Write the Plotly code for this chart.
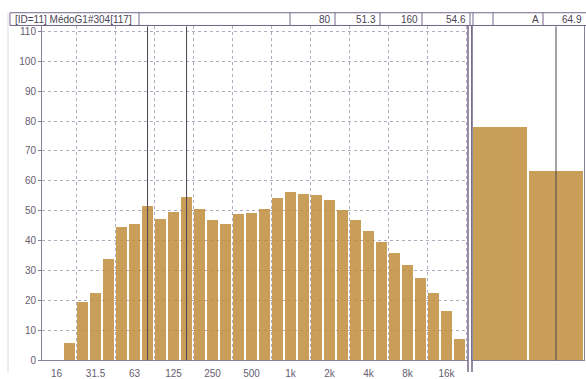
import plotly.graph_objects as go

# ---- data ----
axis_bands = ["16", "20", "25", "31.5", "40", "50", "63", "80", "100", "125", "160",
              "200", "250", "315", "400", "500", "630", "800", "1k", "1.25k", "1.6k",
              "2k", "2.5k", "3.15k", "4k", "5k", "6.3k", "8k", "10k", "12.5k", "16k", "20k"]
categories = axis_bands[1:]
levels = [5.5, 19.3, 22.2, 33.8, 44.4, 45.4, 51.3, 47.1, 49.4, 54.6, 50.4, 46.8, 45.4,
          48.6, 49.2, 50.5, 54.2, 56.2, 55.6, 55.1, 53.6, 50.1, 46.6, 43.0, 39.5, 35.6,
          31.8, 27.4, 22.3, 16.2, 7.1]
tick_labels = ["16", "31.5", "63", "125", "250", "500", "1k", "2k", "4k", "8k", "16k"]
y_ticks = [0, 10, 20, 30, 40, 50, 60, 70, 80, 90, 100, 110]

total_names = ["Lin", "A"]
total_levels = [77.8, 63.1]

title_text = "[ID=11] MédoG1#304[117]"
cursor_bands = ["80", "160"]
cursor_values = [51.3, 54.6]
total_cursor = ("A", 64.9)

W, H = 586, 379
BAR = "rgb(191,143,61)"
GRID = "#b3abbe"
FRAME = "#8a7f99"
TXT = "#665d70"
FONT = "Liberation Sans"

def px(x):
    return x / W

def py(y):
    return 1 - y / H

x_pos = [axis_bands.index(c) for c in categories]
tickvals = [axis_bands.index(t) for t in tick_labels]

fig = go.Figure()
fig.add_trace(go.Bar(x=x_pos, y=levels, width=0.8, marker=dict(color=BAR, line=dict(width=0)),
                     opacity=0.86, xaxis="x", yaxis="y", showlegend=False, hoverinfo="skip"))
fig.add_trace(go.Bar(x=list(range(len(total_names))), y=total_levels, width=0.96,
                     marker=dict(color=BAR, line=dict(width=0)), opacity=0.86,
                     xaxis="x2", yaxis="y2", showlegend=False, hoverinfo="skip"))

y_top = (367 - 26) / 3.055
ydom = [py(367), py(26)]

fig.update_layout(
    width=W, height=H, margin=dict(l=0, r=0, t=0, b=0),
    paper_bgcolor="white", plot_bgcolor="white",
    font=dict(family=FONT, size=10, color=TXT),
    bargap=0,
    xaxis=dict(domain=[px(42), px(468)], range=[-1.12, 31.65],
               tickmode="array", tickvals=tickvals, ticktext=tick_labels,
               showgrid=False, zeroline=False, ticklabelstandoff=4,
               showline=True, linecolor=FRAME, linewidth=1, mirror=True,
               ticks="", tickfont=dict(size=10, color=TXT),
               minor=dict(tick0=1.5, dtick=3, showgrid=True, gridcolor=GRID,
                          griddash="dot", gridwidth=1, ticks="")),
    yaxis=dict(domain=ydom, range=[0, y_top], tickmode="array", tickvals=y_ticks,
               showgrid=True, gridcolor=GRID, griddash="dot", gridwidth=1,
               zeroline=False, showline=True, linecolor=FRAME, linewidth=1,
               ticks="outside", ticklen=3, tickcolor=FRAME,
               tickfont=dict(size=10, color=TXT)),
    xaxis2=dict(domain=[px(472), px(584)], range=[-0.5, 1.5], anchor="y2",
                showticklabels=False, showgrid=False, zeroline=False,
                showline=True, linecolor=FRAME, linewidth=1, mirror=True, ticks=""),
    yaxis2=dict(domain=ydom, range=[0, y_top], anchor="x2", showticklabels=False,
                showgrid=False, zeroline=False, showline=True, linecolor=FRAME,
                linewidth=1, mirror=True, ticks=""),
)

shapes = []
for b in cursor_bands:
    shapes.append(dict(type="line", xref="x", yref="paper", x0=axis_bands.index(b),
                       x1=axis_bands.index(b), y0=ydom[0], y1=ydom[1],
                       line=dict(color="#4a4452", width=1), layer="above"))
shapes.append(dict(type="line", xref="x2", yref="paper", x0=total_names.index(total_cursor[0]),
                   x1=total_names.index(total_cursor[0]), y0=ydom[0], y1=ydom[1],
                   line=dict(color="#4a4452", width=1), layer="above"))
for xx in (468, 472):
    shapes.append(dict(type="line", xref="paper", yref="paper", x0=px(xx), x1=px(xx),
                       y0=py(379), y1=py(25), line=dict(color="#72678a", width=1.5),
                       layer="above"))
shapes.append(dict(type="line", xref="paper", yref="paper", x0=px(8), x1=px(8),
                   y0=0, y1=py(12), line=dict(color="#ddd6e6", width=1)))
hy0, hy1 = py(25), py(12)
shapes.append(dict(type="rect", xref="paper", yref="paper", x0=px(10), x1=px(590),
                   y0=hy0, y1=hy1, line=dict(color="#72678a", width=1)))
for xx in (139, 290, 335, 380, 422, 470, 473, 493, 543):
    shapes.append(dict(type="line", xref="paper", yref="paper", x0=px(xx), x1=px(xx),
                       y0=hy0, y1=hy1, line=dict(color="#72678a", width=1)))
fig.update_layout(shapes=shapes)

ann = [dict(text=title_text, x=px(13), y=(hy0 + hy1) / 2, xref="paper", yref="paper",
            xanchor="left", yanchor="middle", showarrow=False,
            font=dict(family=FONT, size=10, color="#4a4252"))]
cells = [(cursor_bands[0], 333), (f"{cursor_values[0]:.1f}", 378),
         (cursor_bands[1], 420), (f"{cursor_values[1]:.1f}", 468),
         (total_cursor[0], 541), (f"{total_cursor[1]:.1f}", 584)]
for t, xr in cells:
    ann.append(dict(text=t, x=px(xr), y=(hy0 + hy1) / 2, xref="paper", yref="paper",
                    xanchor="right", yanchor="middle", showarrow=False,
                    font=dict(family=FONT, size=10, color="#4a4252")))
fig.update_layout(annotations=ann)

fig.write_html("out.html", config={"displayModeBar": False},
               post_script="document.body.style.margin='0';")
